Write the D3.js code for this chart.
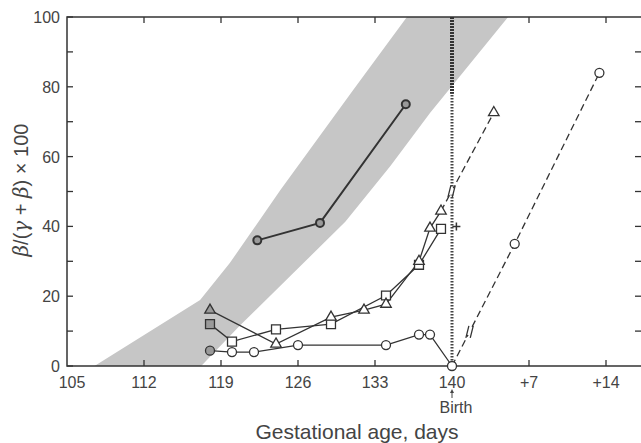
<!DOCTYPE html>
<html>
<head>
<meta charset="utf-8">
<script src="https://cdn.jsdelivr.net/npm/d3@7"></script>
<style>
  body { margin: 0; background: #fff; }
  svg { display: block; font-family: "Liberation Sans", Arial, sans-serif; }
  .tick-label { fill: #444; font-size: 16px; }
</style>
</head>
<body>
<div id="chart"></div>
<script>
// ---- data (days of gestation; post-birth values are days after birth) ----
let xTicks = [105, 112, 119, 126, 133, 140, 147, 154];
let xTickLabels = ["105", "112", "119", "126", "133", "140", "+7", "+14"];
let yTicks = [0, 20, 40, 60, 80, 100];

// shaded normal range, left edge (bottom to top) and right edge (bottom to top)
let bandLeft = [[107.5, 0], [117.1, 18.9], [119.8, 29.5], [124.4, 50.4], [131, 79], [135.9, 100]];
let bandRight = [[117.2, 0], [120.7, 11.5], [125.3, 25.8], [130.3, 41.3], [134.4, 57.3], [138, 72.5], [145.1, 100]];

let upperX = [122.3, 128, 135.8];
let upperY = [36, 41, 75];

let circX = [118, 120, 122, 126, 134, 137, 138, 140];
let circY = [4.4, 4, 4, 6, 6, 9, 9, 0];
let circPostDays = [5.7, 13.4];
let circPostY = [35, 84];

let sqX = [118, 120, 124, 129, 134, 137, 139];
let sqY = [12, 7, 10.5, 12, 20.2, 29, 39.3];
let plusPoint = [140.4, 40];

let triX = [118, 124, 129, 132, 134, 137, 138, 139];
let triY = [16, 6.3, 14, 16, 17.7, 30, 39.5, 44.4];
let triPostDays = [3.8];
let triPostY = [72.6];

let birthDay = 140;

// ---- layout ----
let width = 641, height = 443;
let plotLeft = 67, plotRight = 641, plotTop = 17, plotBottom = 366;
let ink = "#333";
let bandGray = "#c6c6c6";
let markGray = "#9a9a9a";

let x = d3.scaleLinear().domain([105, 105 + (plotRight - plotLeft) / 11]).range([plotLeft, plotRight]);
let y = d3.scaleLinear().domain([0, 100]).range([plotBottom, plotTop]);

let svg = d3.select("#chart").append("svg")
    .attr("width", width)
    .attr("height", height);

// band
let bandPts = bandLeft.concat(bandRight.slice().reverse());
svg.append("path")
    .attr("d", d3.line().x(d => x(d[0])).y(d => y(d[1]))(bandPts) + "Z")
    .attr("fill", bandGray);

// birth line
svg.append("line")
    .attr("x1", x(birthDay)).attr("x2", x(birthDay))
    .attr("y1", y(100)).attr("y2", y(0))
    .attr("stroke", "#444").attr("stroke-width", 3)
    .attr("stroke-dasharray", "1.5,1.5");
svg.append("line")
    .attr("x1", x(birthDay)).attr("x2", x(birthDay))
    .attr("y1", y(100)).attr("y2", y(78))
    .attr("stroke", "#333").attr("stroke-width", 4)
    .attr("stroke-dasharray", "2,1");

// frame
svg.append("path")
    .attr("d", `M${plotRight},${plotTop}H${plotLeft}V${plotBottom}H${plotRight}`)
    .attr("fill", "none").attr("stroke", ink).attr("stroke-width", 1.5);

// ticks
let minorY = d3.range(0, 101, 10);
svg.selectAll(".ytl").data(minorY).enter().append("line")
    .attr("x1", plotLeft).attr("x2", plotLeft + 6)
    .attr("y1", d => y(d)).attr("y2", d => y(d))
    .attr("stroke", ink).attr("stroke-width", 1.3);
svg.selectAll(".ytr").data(minorY.slice(1, -1)).enter().append("line")
    .attr("x1", plotRight - 6).attr("x2", plotRight)
    .attr("y1", d => y(d)).attr("y2", d => y(d))
    .attr("stroke", ink).attr("stroke-width", 1.3);
let innerX = xTicks.filter(d => d != 105 && d != birthDay);
svg.selectAll(".xtb").data(innerX).enter().append("line")
    .attr("x1", d => x(d)).attr("x2", d => x(d))
    .attr("y1", plotBottom).attr("y2", plotBottom - 6)
    .attr("stroke", ink).attr("stroke-width", 1.3);
svg.selectAll(".xtt").data(innerX).enter().append("line")
    .attr("x1", d => x(d)).attr("x2", d => x(d))
    .attr("y1", plotTop).attr("y2", plotTop + 6)
    .attr("stroke", ink).attr("stroke-width", 1.3);

// tick labels
svg.selectAll(".xl").data(xTicks).enter().append("text")
    .attr("class", "tick-label")
    .attr("x", (d, i) => x(d) + (i == 0 ? 5 : 0)).attr("y", plotBottom + 22)
    .attr("text-anchor", "middle")
    .text((d, i) => xTickLabels[i]);
svg.selectAll(".yl").data(yTicks).enter().append("text")
    .attr("class", "tick-label")
    .attr("x", plotLeft - 7).attr("y", d => y(d) + 6)
    .attr("text-anchor", "end")
    .text(d => d);

// birth label + arrow
svg.append("line")
    .attr("x1", x(birthDay)).attr("x2", x(birthDay))
    .attr("y1", 392).attr("y2", 398)
    .attr("stroke", "#444").attr("stroke-width", 1);
svg.append("path")
    .attr("d", `M${x(birthDay) - 2},${393}L${x(birthDay)},${389}L${x(birthDay) + 2},${393}Z`)
    .attr("fill", "#444");
svg.append("text")
    .attr("x", x(birthDay) + 4).attr("y", 413)
    .attr("text-anchor", "middle")
    .attr("fill", "#444").attr("font-size", 16)
    .text("Birth");

// axis titles
svg.append("text")
    .attr("x", 357).attr("y", 439)
    .attr("text-anchor", "middle")
    .attr("fill", "#444").attr("font-size", 21)
    .text("Gestational age, days");

let yt = svg.append("text")
    .attr("transform", "translate(28,190) rotate(-90)")
    .attr("text-anchor", "middle")
    .attr("fill", "#444").attr("font-size", 20);
yt.append("tspan").attr("font-style", "italic").attr("font-family", "DejaVu Serif, serif").text("β");
yt.append("tspan").text("/(");
yt.append("tspan").attr("font-style", "italic").attr("font-family", "DejaVu Serif, serif").text("γ");
yt.append("tspan").text(" + ");
yt.append("tspan").attr("font-style", "italic").attr("font-family", "DejaVu Serif, serif").text("β");
yt.append("tspan").text(")  ×  100");

// ---- series ----
let line = d3.line().x(d => x(d[0])).y(d => y(d[1]));
function zip(xs, ys) { return xs.map((v, i) => [v, ys[i]]); }

let circPts = zip(circX, circY);
let circPost = zip(circPostDays.map(d => birthDay + d), circPostY);
let sqPts = zip(sqX, sqY);
let triPts = zip(triX, triY);
let triPost = zip(triPostDays.map(d => birthDay + d), triPostY);
let upperPts = zip(upperX, upperY);

function solid(pts, w) {
    svg.append("path").attr("d", line(pts))
        .attr("fill", "none").attr("stroke", ink).attr("stroke-width", w || 1.3);
}
function dashed(pts) {
    svg.append("path").attr("d", line(pts))
        .attr("fill", "none").attr("stroke", ink).attr("stroke-width", 1.3)
        .attr("stroke-dasharray", "7,4");
}
// two short strokes across a dashed line, with a gap in between
function breakMark(p0, p1, t) {
    let bx = x(p0[0]) + (x(p1[0]) - x(p0[0])) * t;
    let by = y(p0[1]) + (y(p1[1]) - y(p0[1])) * t;
    svg.append("circle").attr("cx", bx).attr("cy", by).attr("r", 3.5).attr("fill", "#fff");
    [-2.2, 2.2].forEach(o => {
        svg.append("line")
            .attr("x1", bx + o - 1.5).attr("y1", by + 6)
            .attr("x2", bx + o + 1.5).attr("y2", by - 6)
            .attr("stroke", ink).attr("stroke-width", 1.3);
    });
}

solid(upperPts, 2);
solid(circPts);
solid(sqPts);
solid(triPts);
dashed([circPts[circPts.length - 1]].concat(circPost));
dashed([triPts[triPts.length - 1]].concat(triPost));
breakMark(circPts[circPts.length - 1], circPost[0], 0.28);
breakMark(triPts[triPts.length - 1], triPost[0], 0.2);

// markers
let allCirc = circPts.concat(circPost);
svg.selectAll(".mc").data(allCirc).enter().append("circle")
    .attr("cx", d => x(d[0])).attr("cy", d => y(d[1])).attr("r", 4.5)
    .attr("fill", (d, i) => i == 0 ? markGray : "#fff")
    .attr("stroke", ink).attr("stroke-width", 1.3);

svg.selectAll(".ms").data(sqPts).enter().append("path")
    .attr("transform", d => `translate(${x(d[0])},${y(d[1])})`)
    .attr("d", d3.symbol(d3.symbolSquare, 80))
    .attr("fill", (d, i) => i == 0 ? markGray : "#fff")
    .attr("stroke", ink).attr("stroke-width", 1.3);

svg.selectAll(".mt").data(triPts.concat(triPost)).enter().append("path")
    .attr("transform", d => `translate(${x(d[0])},${y(d[1])})`)
    .attr("d", d3.symbol(d3.symbolTriangle, 48))
    .attr("fill", (d, i) => i == 0 ? markGray : "#fff")
    .attr("stroke", ink).attr("stroke-width", 1.3);

svg.selectAll(".mu").data(upperPts).enter().append("circle")
    .attr("cx", d => x(d[0])).attr("cy", d => y(d[1])).attr("r", 4)
    .attr("fill", markGray)
    .attr("stroke", ink).attr("stroke-width", 2);

// plus sign
let px = x(plusPoint[0]), py = y(plusPoint[1]);
svg.append("path")
    .attr("d", `M${px - 4},${py}H${px + 4}M${px},${py - 4}V${py + 4}`)
    .attr("stroke", ink).attr("stroke-width", 1.5);
</script>
</body>
</html>
